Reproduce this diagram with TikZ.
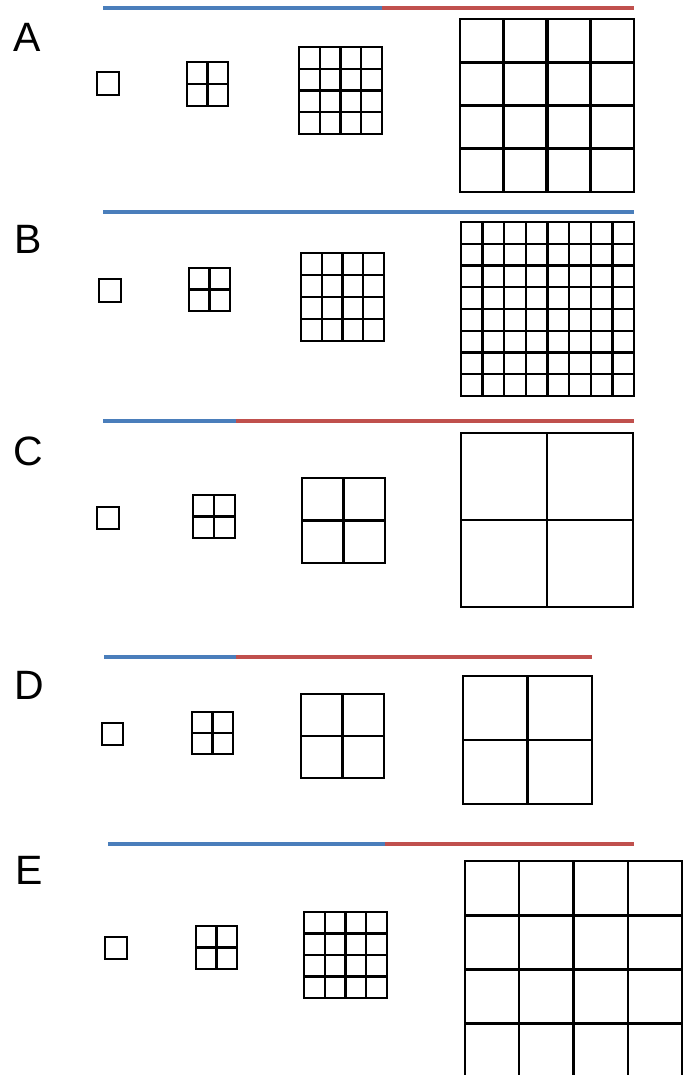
\documentclass[tikz,border=0pt]{standalone}
\usepackage{fontspec}
\setmainfont{Liberation Sans}
\definecolor{barblue}{HTML}{4A7EBB}
\definecolor{barred}{HTML}{C0504D}
\tikzset{
  gridl/.style={line width=2.4pt, line cap=rect, black},
  thickl/.style={line width=3.2pt, black},
  bluebar/.style={line width=4.5pt, barblue},
  redbar/.style={line width=4.5pt, barred},
  panellabel/.style={font=\fontsize{41}{41}\selectfont, inner sep=0pt, anchor=base west}
}
\newcommand\mygrid[5]{%
  \pgfmathtruncatemacro\nm{#5-1}%
  \foreach \i in {1,...,\nm}{%
    \draw[gridl] ({#1+(#3-#1)*\i/#5},#2) -- ({#1+(#3-#1)*\i/#5},#4);
    \draw[gridl] (#1,{#2+(#4-#2)*\i/#5}) -- (#3,{#2+(#4-#2)*\i/#5});
  }%
  \draw[gridl] (#1,#2) rectangle (#3,#4);
}
\begin{document}
\begin{tikzpicture}[x=1pt,y=-1pt]
\useasboundingbox (0,0) rectangle (689,1075);
\begin{scope}
\clip (0,0) rectangle (689,1075);
% ---------- A ----------
\coordinate (a0) at (103,8); \coordinate (a1) at (382,8); \coordinate (a2) at (634,8);
\draw[bluebar] (a0) -- (a1);
\draw[redbar] (a1) -- (a2);
\node[panellabel] (labA) at (13,52) {A};
\draw[gridl] (97,72) rectangle (119,95);
\mygrid{187}{62}{228}{106}{2}
\mygrid{299}{47}{382}{134}{4}
\mygrid{460}{19}{634}{192}{4}
\draw[thickl] (547,19) -- (547,192);
\draw[thickl] (460,62.25) -- (634,62.25);
\draw[thickl] (460,148.75) -- (634,148.75);
% ---------- B ----------
\coordinate (b0) at (103,212); \coordinate (b1) at (634,212);
\draw[bluebar] (b0) -- (b1);
\node[panellabel] (labB) at (14,254) {B};
\draw[gridl] (99,279) rectangle (121,302);
\mygrid{189}{268}{230}{311}{2}
\mygrid{301}{253}{384}{341}{4}
\draw[thickl] (342.5,253) -- (342.5,341);
\mygrid{461}{222}{634}{396}{8}
\draw[thickl] (547.5,222) -- (547.5,396);
\draw[thickl] (461,265.5) -- (634,265.5);
\draw[thickl] (461,352.5) -- (634,352.5);
% ---------- C ----------
\coordinate (c0) at (103,421); \coordinate (c1) at (236,421); \coordinate (c2) at (634,421);
\draw[bluebar] (c0) -- (c1);
\draw[redbar] (c1) -- (c2);
\node[panellabel] (labC) at (13,465) {C};
\draw[gridl] (97,507) rectangle (119,529);
\mygrid{193}{495}{235}{538}{2}
\mygrid{302}{478}{385}{563}{2}
\mygrid{461}{433}{633}{607}{2}
% ---------- D ----------
\coordinate (d0) at (104,657); \coordinate (d1) at (236,657); \coordinate (d2) at (592,657);
\draw[bluebar] (d0) -- (d1);
\draw[redbar] (d1) -- (d2);
\node[panellabel] (labD) at (14,699) {D};
\draw[gridl] (102,723) rectangle (123,745);
\mygrid{192}{712}{233}{754}{2}
\mygrid{301}{694}{384}{778}{2}
\mygrid{463}{676}{592}{804}{2}
% ---------- E ----------
\coordinate (e0) at (108,844); \coordinate (e1) at (385,844); \coordinate (e2) at (634,844);
\draw[bluebar] (e0) -- (e1);
\draw[redbar] (e1) -- (e2);
\node[panellabel] (labE) at (15,884) {E};
\draw[gridl] (105,937) rectangle (127,959);
\mygrid{196}{926}{237}{969}{2}
\mygrid{304}{912}{387}{998}{4}
\mygrid{465}{861}{682}{1078}{4}
\draw[thickl] (573.5,861) -- (573.5,1078);
\draw[thickl] (465,915.25) -- (682,915.25);
\draw[thickl] (465,1023.75) -- (682,1023.75);
\end{scope}
\end{tikzpicture}
\end{document}
